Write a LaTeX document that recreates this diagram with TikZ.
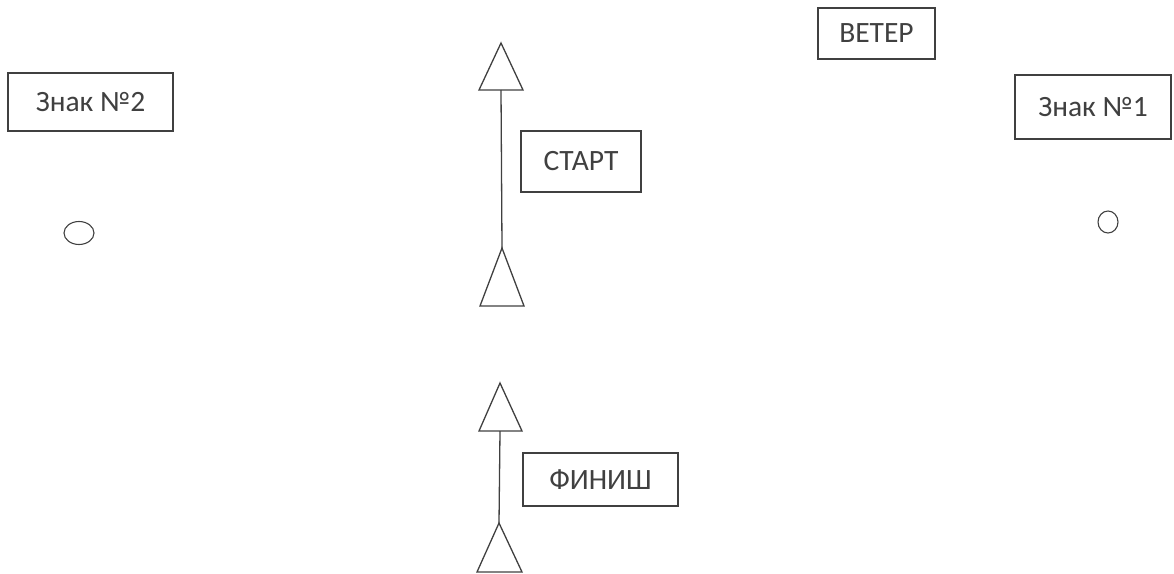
\documentclass[tikz,border=0pt]{standalone}
\usepackage{fontspec}
\setmainfont{Carlito}
\begin{document}
\begin{tikzpicture}[x=1pt,y=-1pt,
  line width=1.3pt,
  ink/.style={draw=black!75},
  labelbox/.style={ink, rectangle, inner sep=0pt, text=black!75, font=\fontsize{29.5}{34}\selectfont},
  buoy/.style={ink, line width=1.1pt}]
\useasboundingbox (0,0) rectangle (1174,573);
% boxes
\node[labelbox, minimum width=165pt, minimum height=58pt] (z2) at (90.5,102) {Знак №2\hspace{12pt}};
\node[labelbox, minimum width=120pt, minimum height=61pt] (start) at (581,161.5) {СТАРТ};
\node[labelbox, minimum width=155pt, minimum height=53pt] (finish) at (600.5,479.5) {ФИНИШ};
\node[labelbox, minimum width=117pt, minimum height=51pt] (wind) at (876.5,33.5) {ВЕТЕР};
\node[labelbox, minimum width=156pt, minimum height=64pt] (z1) at (1093,107) {Знак №1};
% buoys
\draw[buoy] (79,233) ellipse (15 and 11.5);
\draw[buoy] (1108,222) ellipse (10 and 11);
% start line
\coordinate (s1a) at (501,43);
\coordinate (s1b) at (501,90);
\coordinate (s2a) at (502,248);
\draw[ink] (s1a) -- (523,90) -- (479,90) -- cycle;
\draw[ink] (s2a) -- (524,306) -- (480,306) -- cycle;
\draw[ink] (s1b) -- (s2a);
% finish line
\coordinate (f1a) at (500,383);
\coordinate (f1b) at (500,431);
\coordinate (f2a) at (499,523);
\draw[ink] (f1a) -- (522,431) -- (479,431) -- cycle;
\draw[ink] (f2a) -- (522,572) -- (477,572) -- cycle;
\draw[ink] (f1b) -- (f2a);
\end{tikzpicture}
\end{document}
